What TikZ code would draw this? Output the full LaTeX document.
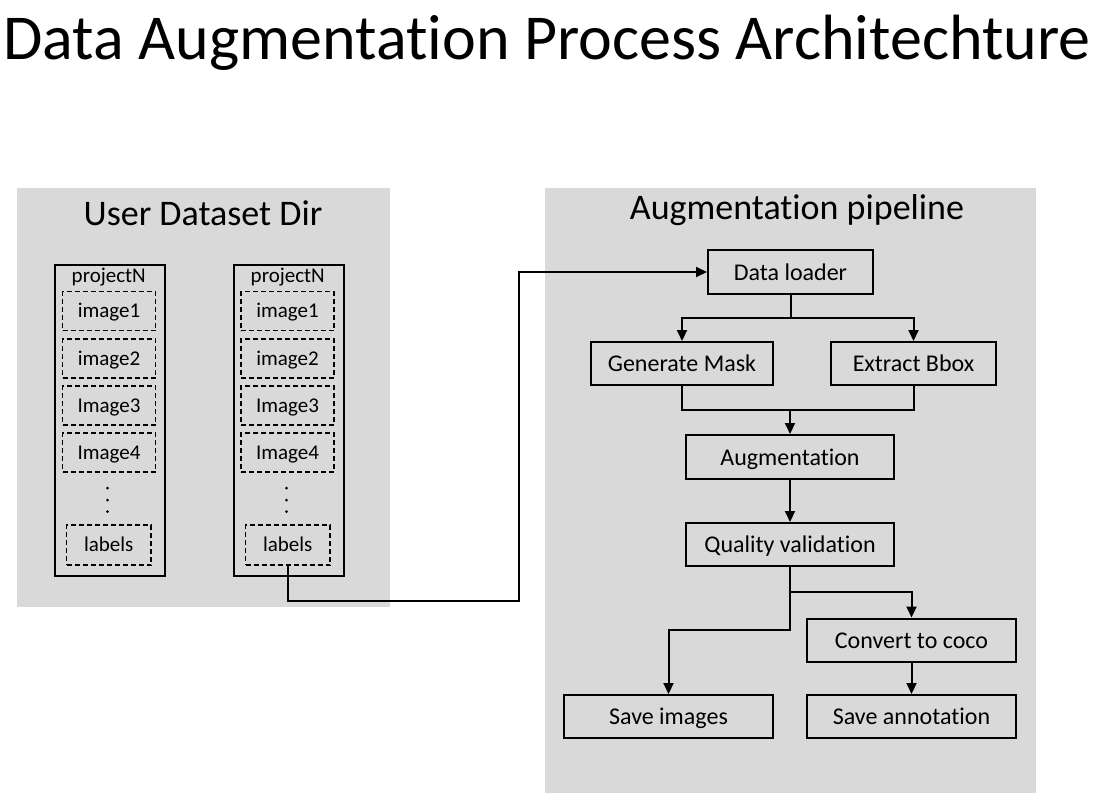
\documentclass[tikz,border=0pt]{standalone}
\usepackage{fontspec}
\setmainfont{Carlito}[RawFeature={-liga}]
\usetikzlibrary{arrows.meta}
\definecolor{panelgray}{RGB}{217,217,217}
\begin{document}
\begin{tikzpicture}[x=1pt,y=-1pt,
  panel/.style={fill=panelgray,draw=none,anchor=north west,inner sep=0pt},
  stepbox/.style={draw,line width=2pt,fill=panelgray,inner sep=0pt,text height=19.5pt,text depth=3.5pt,font=\fontsize{24}{28}\selectfont},
  colbox/.style={draw,line width=2pt,inner sep=0pt,anchor=north west,minimum width=#1,minimum height=311pt},
  filebox/.style={draw,line width=1.6pt,dash pattern=on 5pt off 3pt,inner sep=0pt,text height=16.5pt,text depth=3.5pt,font=\fontsize{21}{25}\selectfont},
  conn/.style={line width=2pt},
  arr/.style={conn,-{Triangle[length=11pt,width=10pt]}}
]
\useasboundingbox (0,0) rectangle (1094,801);
\fill[white] (0,0) rectangle (1094,801);
% title
\node (title) at (547,43) {\fontsize{64}{76}\selectfont Data Augmentation Process Architechture};
% panels
\node[panel,minimum width=373pt,minimum height=419pt] (leftp) at (17,188) {};
\node[panel,minimum width=491pt,minimum height=605pt] (rightp) at (545,188) {};
\node (lefttitle) at (203,213) {\fontsize{36}{42}\selectfont User Dataset Dir};
\node (righttitle) at (797,210) {\fontsize{36}{42}\selectfont Augmentation pipeline};
% columns
\foreach \c/\x/\fx/\lx/\lw/\w in {a/53.5/62.5/66.5/84.5/110.5, b/232.5/241/245.5/84.5/110.5}{
  \node[colbox=\w pt] (col\c) at (\x,263.5) {};
  \node[font=\fontsize{21}{25}\selectfont,inner sep=0pt,text height=16.5pt,text depth=3.5pt] (proj\c) at (\x+55.25,276) {projectN};
  \node[filebox,minimum width=93pt,minimum height=39pt] (img1\c) at (\fx+46.5,311) {image1};
  \node[filebox,minimum width=93pt,minimum height=39pt] (img2\c) at (\fx+46.5,358.5) {image2};
  \node[filebox,minimum width=93pt,minimum height=39pt] (img3\c) at (\fx+46.5,405.5) {Image3};
  \node[filebox,minimum width=93pt,minimum height=39pt] (img4\c) at (\fx+46.5,452.5) {Image4};
  \node[filebox,minimum width=\lw pt,minimum height=40pt] (lab\c) at (\lx+42.25,545) {labels};
  \foreach \yy in {488,500,511.5}{\fill (\x+54,\yy) circle (1.5pt);}
}
% pipeline boxes
\node[stepbox,minimum width=165pt,minimum height=44pt] (loader) at (790.5,272) {Data loader};
\node[stepbox,minimum width=182pt,minimum height=43pt] (mask) at (682,363.5) {Generate Mask};
\node[stepbox,minimum width=165pt,minimum height=43pt] (bbox) at (913.5,363.5) {Extract Bbox};
\node[stepbox,minimum width=208pt,minimum height=44pt] (aug) at (790,457) {Augmentation};
\node[stepbox,minimum width=208pt,minimum height=43pt] (qv) at (790,544.5) {Quality validation};
\node[stepbox,minimum width=209pt,minimum height=43pt] (coco) at (911.5,640) {Convert to coco};
\node[stepbox,minimum width=209pt,minimum height=43pt] (saveimg) at (668.5,716.5) {Save images};
\node[stepbox,minimum width=209pt,minimum height=43pt] (saveann) at (911.5,716.5) {Save annotation};
% connectors
\draw[arr] (labb.south) |- (519,601) |- (loader.west);
\draw[conn] (loader.south) -- (790.5,318) coordinate (split);
\draw[arr] (split) -| (mask.north);
\draw[arr] (split) -| (bbox.north);
\draw[conn] (mask.south) |- (790,410) coordinate (merge) -| (bbox.south);
\draw[arr] (merge) -- (aug.north);
\draw[arr] (aug.south) -- (qv.north);
\draw[conn] (qv.south) -- (790,592) coordinate (qsplit);
\draw[arr] (qsplit) -| (coco.north);
\draw[arr] (qsplit) -- (790,630) -| (saveimg.north);
\draw[arr] (coco.south) -- (saveann.north);
\end{tikzpicture}
\end{document}
